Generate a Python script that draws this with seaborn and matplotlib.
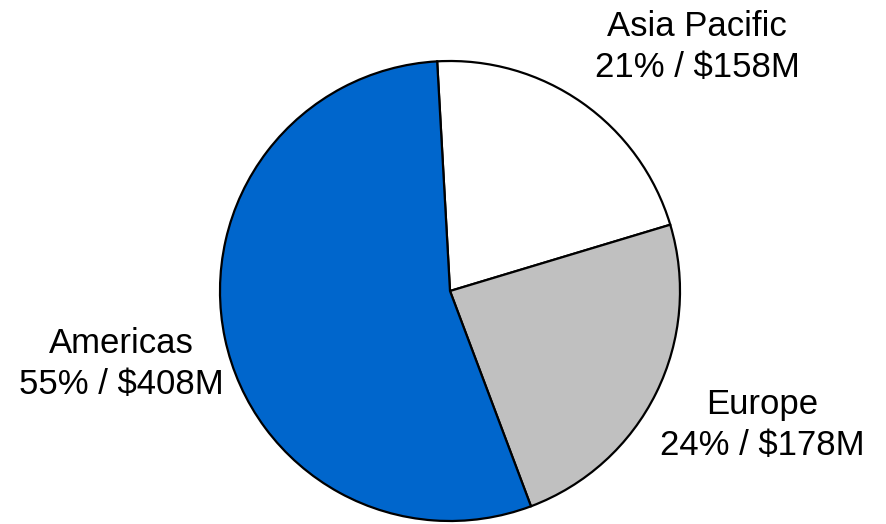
import matplotlib
matplotlib.use("Agg")
import matplotlib.pyplot as plt
import seaborn as sns

regions = ["Asia Pacific", "Europe", "Americas"]
revenue_musd = [158, 178, 408]
shares_pct = [21, 24, 55]
slice_colors = ["#FFFFFF", "#C0C0C0", "#0066CC"]


def main():
    sns.set_theme(style="white")
    plt.rcParams["font.family"] = ["Liberation Sans", "DejaVu Sans"]

    fig = plt.figure(figsize=(8.86, 5.24), dpi=100)
    ax = fig.add_axes([0, 0, 1, 1])
    ax.pie(
        revenue_musd,
        colors=slice_colors,
        startangle=93.2,
        counterclock=False,
        radius=1.0,
        wedgeprops={"edgecolor": "black", "linewidth": 1.6},
    )
    # pixel layout: centre (450, 291), radius 230 px
    r_px = 230
    ax.set_xlim(-450 / r_px, (886 - 450) / r_px)
    ax.set_ylim(-(524 - 291) / r_px, 291 / r_px)
    ax.set_aspect("auto")
    ax.axis("off")

    label_px = [(697, 47), (762, 425), (121, 364)]
    for name, share, rev, (px, py) in zip(regions, shares_pct, revenue_musd, label_px):
        x = (px - 450) / r_px
        y = (291 - py) / r_px
        ax.text(x, y, f"{name}\n{share}% / ${rev}M", ha="center", va="center",
                fontsize=25, color="black", linespacing=1.28)

    plt.savefig("out.png", dpi=100)


if __name__ == "__main__":
    main()
